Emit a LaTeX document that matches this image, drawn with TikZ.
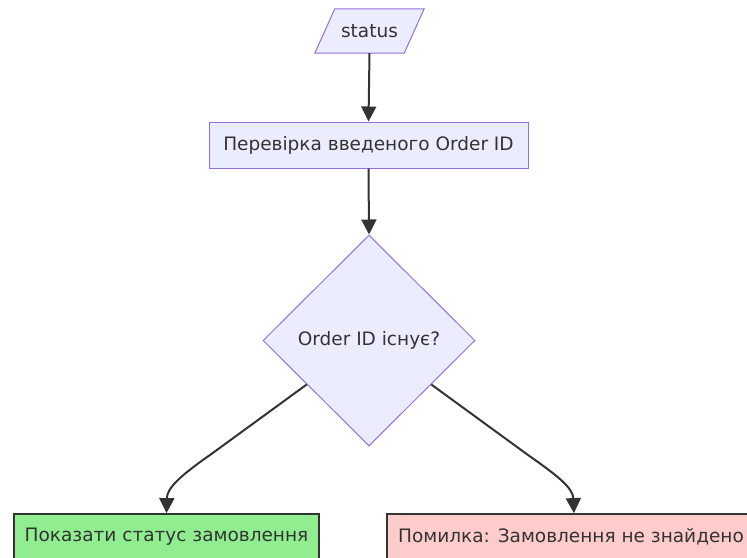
\documentclass[tikz,border=0pt]{standalone}
\usepackage{fontspec}
\setmainfont{DejaVu Sans}
\usetikzlibrary{shapes.geometric,arrows.meta,calc}
\definecolor{nodefill}{HTML}{ECECFF}
\definecolor{nodeline}{HTML}{9370DB}
\definecolor{ink}{HTML}{333333}
\definecolor{okfill}{HTML}{90EE90}
\definecolor{errfill}{HTML}{FFCCCC}
\tikzset{
  txt/.style={font=\fontsize{18.5}{22}\selectfont, text=ink, inner sep=0pt},
  procbox/.style={txt, draw=nodeline, fill=nodefill, line width=1pt, rectangle},
  decbox/.style={txt, draw=nodeline, fill=nodefill, line width=1pt, diamond, aspect=1},
  okbox/.style={txt, draw=ink, fill=okfill, line width=1.8pt, rectangle},
  errbox/.style={txt, draw=ink, fill=errfill, line width=1.8pt, rectangle},
  flow/.style={draw=ink, line width=2pt, -{Triangle[length=15pt,width=15pt]}},
}
\begin{document}
\begin{tikzpicture}[x=1pt,y=-1pt]
\useasboundingbox (0,0) rectangle (747,557);
% status parallelogram
\node[txt, minimum width=89pt, minimum height=44pt] (status) at (369.5,31) {};
\draw[draw=nodeline, fill=nodefill, line width=1pt]
  ($(status.north west)+(10,0)$) -- ($(status.north east)+(10,0)$) --
  ($(status.south east)+(-10,0)$) -- ($(status.south west)+(-10,0)$) -- cycle;
\node[txt] (statustxt) at (status.center) {status};
\node[procbox, minimum width=319pt, minimum height=46pt] (check) at (368.5,145) {Перевірка введеного Order ID};
\node[decbox, minimum width=212pt, minimum height=211pt] (dec) at (369,340.5) {Order ID існує?};
\node[okbox, minimum width=305pt, minimum height=46pt] (ok) at (166.5,537) {Показати статус замовлення};
\node[errbox, minimum width=374pt, minimum height=46pt, anchor=west] (err) at (386,537) {};
\node[txt, anchor=west] (errtxt) at (398,537) {Помилка: Замовлення не знайдено};
\coordinate (okin) at (ok.north);
\coordinate (errin) at (err.north);
\draw[flow] (status.south) -- (check.north);
\draw[flow] (check.south) -- (dec.north);
\draw[flow] ($(dec.west)!0.415!(dec.south)$) -- (210,455) .. controls (180,476) and (167,488) .. (okin);
\draw[flow] ($(dec.east)!0.415!(dec.south)$) -- (528,455) .. controls (558,476) and (573,488) .. (errin);
\end{tikzpicture}
\end{document}
